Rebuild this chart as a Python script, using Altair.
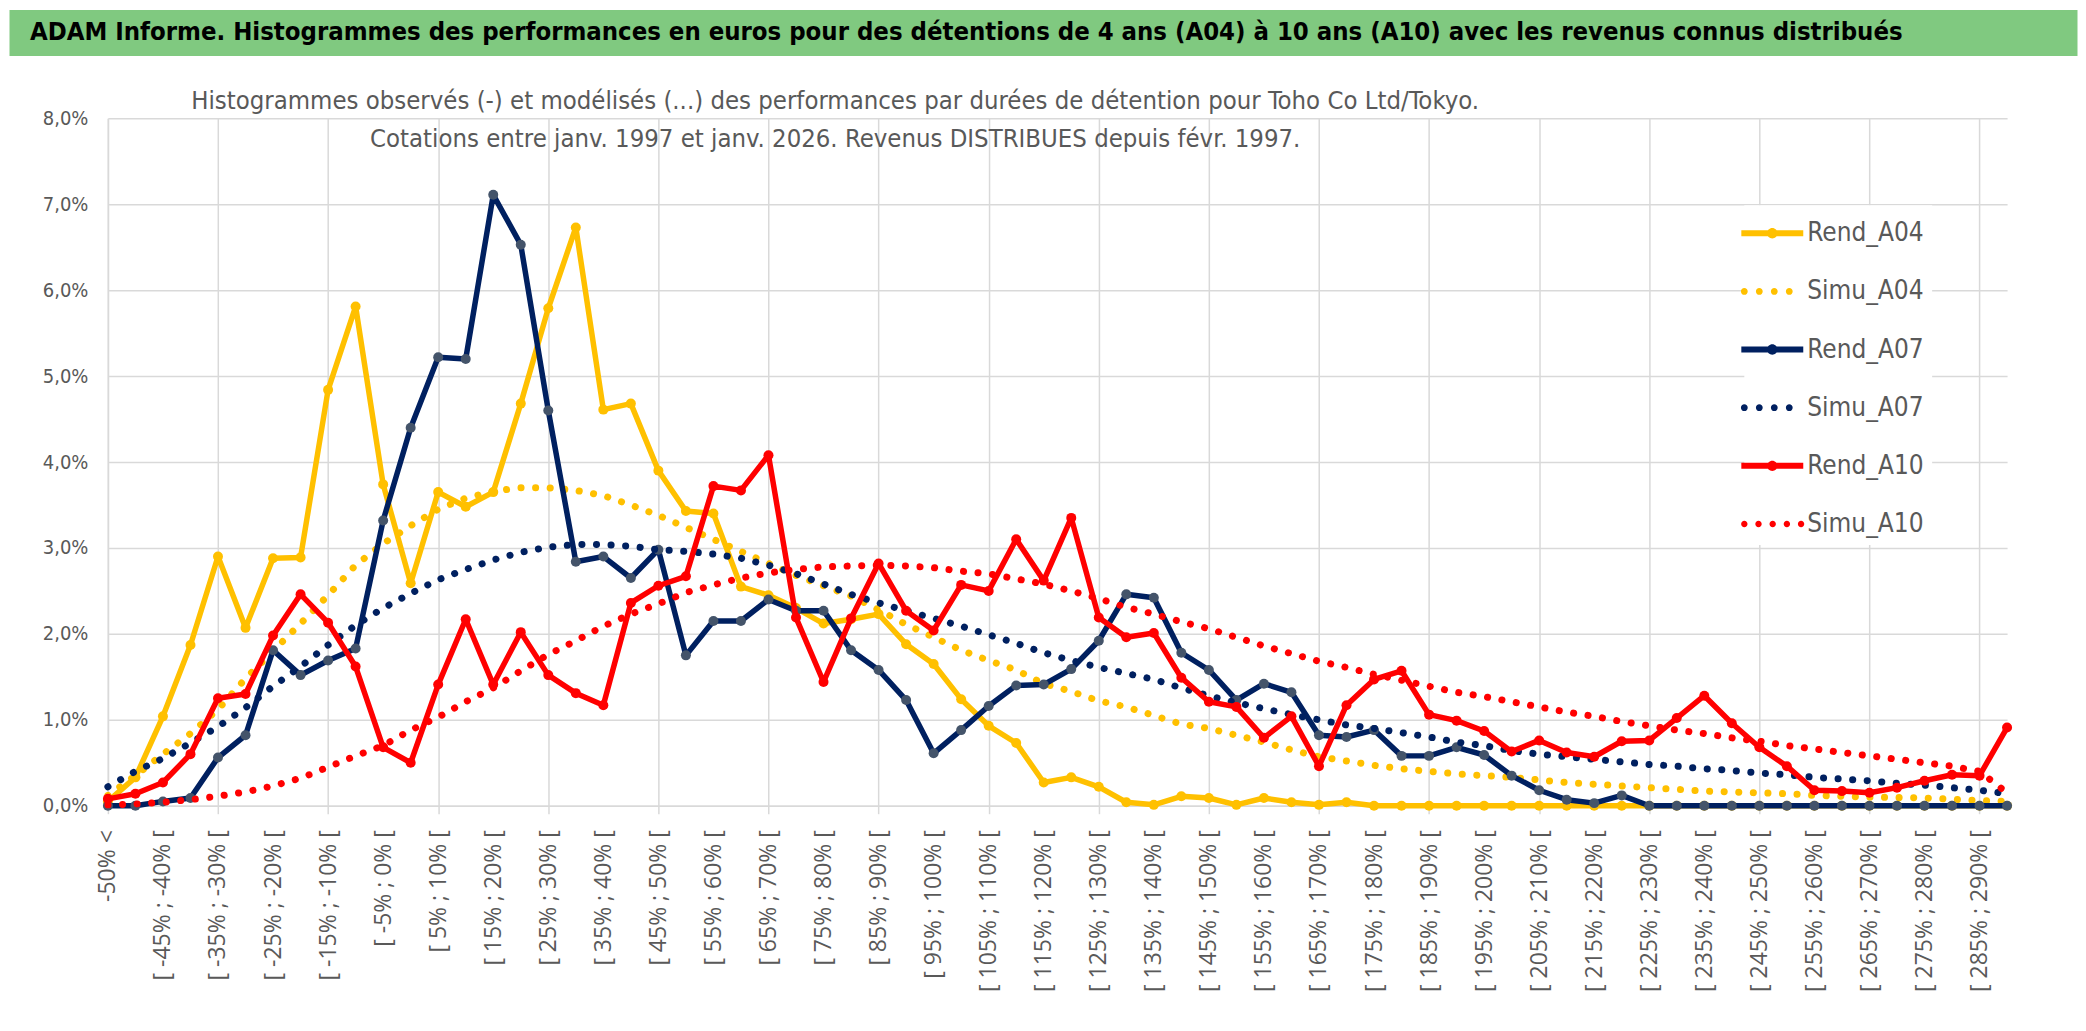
import json
import altair as alt
import pandas as pd

# ---------------- data ----------------
cats = ["-50% <"] + [f"[ {a}% ; {a + 5}% [" for a in range(-50, 295, 5)]

rend_a04 = [0.05, 0.33, 1.04, 1.87, 2.90, 2.07, 2.88, 2.89, 4.84, 5.81,
            3.74, 2.59, 3.65, 3.48, 3.65, 4.68, 5.79, 6.73, 4.61, 4.68,
            3.90, 3.43, 3.40, 2.55, 2.45, 2.30, 2.12, 2.17, 2.23, 1.88,
            1.65, 1.24, 0.93, 0.73, 0.27, 0.33, 0.22, 0.04, 0.01, 0.11,
            0.09, 0.01, 0.09, 0.04, 0.01, 0.04, 0.00, 0.00, 0.00, 0.00,
            0.00, 0.00, 0.00, 0.00, 0.00, 0.00, 0.00, 0.00, 0.00, 0.00,
            0.00, 0.00, 0.00, 0.00, 0.00, 0.00, 0.00, 0.00, 0.00, 0.00]
simu_a04 = [0.12, 0.35, 0.60, 0.84, 1.12, 1.48, 1.80, 2.12, 2.45, 2.80,
            3.05, 3.26, 3.45, 3.58, 3.66, 3.70, 3.70, 3.67, 3.61, 3.50,
            3.38, 3.24, 3.10, 2.96, 2.82, 2.68, 2.56, 2.44, 2.28, 2.11,
            1.96, 1.81, 1.69, 1.58, 1.42, 1.33, 1.22, 1.15, 1.05, 0.95,
            0.90, 0.82, 0.74, 0.65, 0.57, 0.52, 0.47, 0.43, 0.40, 0.37,
            0.35, 0.33, 0.30, 0.27, 0.25, 0.23, 0.21, 0.19, 0.17, 0.16,
            0.15, 0.14, 0.12, 0.11, 0.10, 0.095, 0.09, 0.075, 0.06, 0.05]
rend_a07 = [0.00, 0.00, 0.05, 0.09, 0.56, 0.82, 1.81, 1.52, 1.69, 1.83,
            3.32, 4.40, 5.22, 5.20, 7.11, 6.53, 4.60, 2.84, 2.90, 2.65,
            2.98, 1.75, 2.15, 2.15, 2.40, 2.27, 2.27, 1.81, 1.58, 1.23,
            0.61, 0.88, 1.16, 1.40, 1.41, 1.59, 1.92, 2.46, 2.42, 1.78,
            1.58, 1.23, 1.42, 1.32, 0.82, 0.80, 0.88, 0.58, 0.58, 0.68,
            0.59, 0.35, 0.18, 0.07, 0.03, 0.12, 0.00, 0.00, 0.00, 0.00,
            0.00, 0.00, 0.00, 0.00, 0.00, 0.00, 0.00, 0.00, 0.00, 0.00]
simu_a07 = [0.22, 0.40, 0.55, 0.73, 0.92, 1.14, 1.39, 1.62, 1.87, 2.10,
            2.30, 2.47, 2.63, 2.75, 2.86, 2.95, 3.01, 3.04, 3.04, 3.02,
            2.98, 2.96, 2.93, 2.88, 2.80, 2.70, 2.58, 2.46, 2.36, 2.27,
            2.18, 2.09, 1.99, 1.89, 1.78, 1.69, 1.61, 1.54, 1.47, 1.37,
            1.28, 1.20, 1.13, 1.06, 1.00, 0.94, 0.90, 0.85, 0.80, 0.74,
            0.70, 0.64, 0.60, 0.57, 0.54, 0.51, 0.48, 0.46, 0.43, 0.41,
            0.38, 0.36, 0.33, 0.31, 0.29, 0.26, 0.24, 0.21, 0.18, 0.14]
rend_a10 = [0.08, 0.14, 0.27, 0.60, 1.25, 1.30, 1.98, 2.46, 2.13, 1.62,
            0.68, 0.50, 1.41, 2.17, 1.41, 2.02, 1.52, 1.31, 1.17, 2.36,
            2.56, 2.67, 3.72, 3.67, 4.08, 2.19, 1.44, 2.18, 2.82, 2.27,
            2.04, 2.57, 2.50, 3.10, 2.62, 3.35, 2.19, 1.96, 2.01, 1.49,
            1.21, 1.15, 0.79, 1.04, 0.46, 1.17, 1.47, 1.57, 1.06, 0.99,
            0.87, 0.63, 0.76, 0.62, 0.57, 0.75, 0.76, 1.02, 1.28, 0.96,
            0.68, 0.46, 0.18, 0.17, 0.15, 0.21, 0.29, 0.36, 0.35, 0.91]
simu_a10 = [0.01, 0.02, 0.04, 0.07, 0.11, 0.16, 0.23, 0.32, 0.45, 0.58,
            0.70, 0.88, 1.03, 1.21, 1.37, 1.57, 1.76, 1.92, 2.09, 2.23,
            2.35, 2.48, 2.57, 2.65, 2.71, 2.75, 2.78, 2.79, 2.80, 2.79,
            2.77, 2.73, 2.70, 2.64, 2.58, 2.50, 2.41, 2.31, 2.23, 2.14,
            2.06, 1.96, 1.86, 1.77, 1.68, 1.61, 1.53, 1.46, 1.39, 1.32,
            1.27, 1.21, 1.15, 1.09, 1.04, 0.98, 0.93, 0.88, 0.84, 0.79,
            0.75, 0.70, 0.66, 0.62, 0.58, 0.54, 0.50, 0.46, 0.40, 0.15]

series_names = ["Rend_A04", "Simu_A04", "Rend_A07", "Simu_A07", "Rend_A10", "Simu_A10"]
series_values = [rend_a04, simu_a04, rend_a07, simu_a07, rend_a10, simu_a10]
line_colors = ["#FFC000", "#FFC000", "#002060", "#002060", "#FF0000", "#FF0000"]
marker_colors = ["#FFC000", None, "#44546A", None, "#FF0000", None]

y_ticks = [0.0, 0.01, 0.02, 0.03, 0.04, 0.05, 0.06, 0.07, 0.08]

banner_text = ("ADAM Informe. Histogrammes des performances en euros pour des détentions "
               "de 4 ans (A04) à 10 ans (A10) avec les revenus connus distribués")
title_lines = ["Histogrammes observés (-) et modélisés (...) des performances par durées de détention pour Toho Co Ltd/Tokyo.",
               "Cotations entre janv. 1997 et janv. 2026. Revenus DISTRIBUES depuis févr. 1997."]

rows = []
for name, vals in zip(series_names, series_values):
    for c, v in zip(cats, vals):
        rows.append({"cat": c, "series": name, "value": v / 100.0})
df = pd.DataFrame(rows)

# ---------------- styles ----------------
NARROW = "DejaVu Sans Condensed, sans-serif"
WIDE = "Open Sans, Noto Sans, sans-serif"
GRID = "#D9D9D9"
TXT = "#595959"

LEFT = 99          # room kept for the value-axis labels inside the chart
PLOT_W = 1901
TOTAL_W = LEFT + PLOT_W

label_cats = cats[0::2]
grid_cats = cats[0::4]
grid_test = "indexof(" + json.dumps(grid_cats) + ", datum.value) >= 0"

x_axis = alt.Axis(
    values=label_cats, labelAngle=-90, labelFont=WIDE, labelFontSize=23,
    labelColor=TXT, labelPadding=16, labelLimit=400, labelOverlap=False,
    tickSize=8, tickColor=GRID, tickWidth=1.5,
    tickOpacity={"condition": {"test": grid_test, "value": 1}, "value": 0},
    grid=True, gridColor=GRID, gridWidth=1.5,
    gridOpacity={"condition": {"test": grid_test, "value": 1}, "value": 0},
    domainColor=GRID, domainWidth=1.5, title=None,
)
y_axis = alt.Axis(
    values=y_ticks, labelExpr="replace(format(datum.value, '.1%'), '.', ',')",
    labelFont=NARROW, labelFontSize=20, labelColor=TXT, labelPadding=20,
    ticks=False, grid=True, gridColor=GRID, gridWidth=1.5,
    domainColor=GRID, domainWidth=1.5, offset=-LEFT, title=None,
)

base = alt.Chart().encode(
    x=alt.X("cat:N", sort=cats,
            scale=alt.Scale(type="point", padding=0, range=[LEFT, TOTAL_W]), axis=x_axis),
    y=alt.Y("value:Q", scale=alt.Scale(domain=[0, 0.08], nice=False, zero=True), axis=y_axis),
)

layers = []
for name, lc, mc in zip(series_names, line_colors, marker_colors):
    f = alt.datum.series == name
    if name.startswith("Rend"):
        layers.append(base.mark_line(color=lc, strokeWidth=5.5, strokeJoin="round").transform_filter(f))
        layers.append(base.mark_circle(color=mc, size=100, opacity=1).transform_filter(f))
    else:
        layers.append(base.mark_line(color=lc, strokeWidth=7, strokeCap="round",
                                     strokeDash=[0.1, 14.5]).transform_filter(f))


def circ(cx, r):
    return (f"M{cx + r:.3f},0 A{r},{r} 0 1 1 {cx - r:.3f},0 "
            f"A{r},{r} 0 1 1 {cx + r:.3f},0 Z")


rend_path = ("M-1.55,-0.15 L1.55,-0.15 L1.55,0.15 L-1.55,0.15 Z " + circ(0, 0.26))
simu4_path = " ".join(circ(cx, 0.17) for cx in [-1.40, -0.65, 0.10, 0.85])
simu5_path = " ".join(circ(cx, 0.16) for cx in [-1.40, -0.69, 0.02, 0.73, 1.44])
legend_paths = [rend_path, simu4_path, rend_path, simu4_path, rend_path, simu5_path]

leg = alt.Legend(
    title=None, orient="none", legendX=1737, legendY=196, direction="vertical",
    symbolSize=1600, symbolStrokeWidth=0, symbolOpacity=1,
    labelFont=NARROW, labelFontSize=26, labelColor=TXT, labelOffset=15,
    labelExpr="datum.label + '       '",
    rowPadding=25.2, padding=8, fillColor="white", zindex=1,
)
legend_layer = alt.Chart(pd.DataFrame({"series": series_names})).mark_point(
    filled=True, opacity=0, size=1600
).encode(
    color=alt.Color("series:N", scale=alt.Scale(domain=series_names, range=line_colors), legend=leg),
    shape=alt.Shape("series:N", scale=alt.Scale(domain=series_names, range=legend_paths), legend=leg),
)
layers.append(legend_layer)

main = alt.layer(*layers, data=df).properties(
    width=TOTAL_W, height=688,
    title=alt.TitleParams(
        text=title_lines, font=NARROW, fontSize=25.5, fontWeight="normal", color=TXT,
        anchor="middle", dx=-173, offset=-44, lineHeight=38,
        frame="group", zindex=1,
    ),
)

banner = alt.Chart(pd.DataFrame({"t": [banner_text]})).mark_text(
    align="left", baseline="middle", font=NARROW, fontSize=25.5, fontWeight="bold", color="black"
).encode(
    x=alt.value(21), y=alt.value(23), text="t:N"
).properties(width=2070, height=46, view=alt.ViewBackground(fill="#80C980", stroke="transparent"))

chart = alt.vconcat(banner, main, spacing=32).properties(
    padding=0, background="white"
).configure_view(stroke="transparent")

chart.save("out.html", embed_options={"renderer": "svg", "actions": False})
